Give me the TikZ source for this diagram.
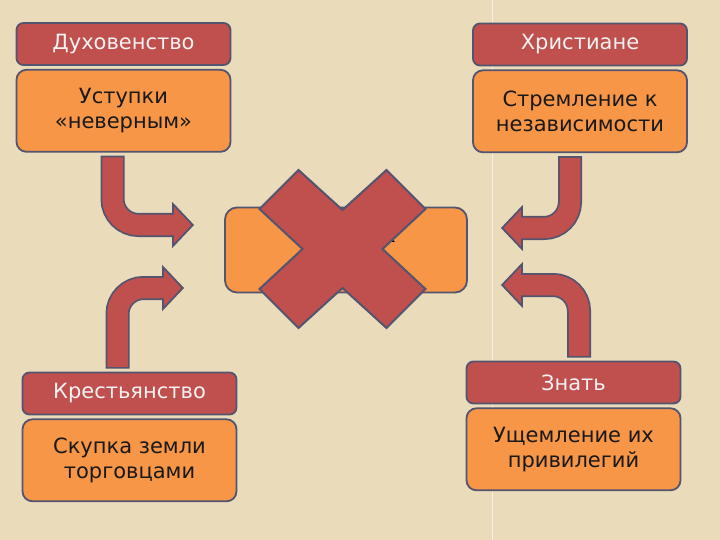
\documentclass[tikz,border=0pt]{standalone}
\usepackage{fontspec}
\setmainfont{DejaVu Sans}
\newfontfamily\midfont{Liberation Serif}
\usepackage{tikz}
\usetikzlibrary{positioning,arrows.meta,calc}
\definecolor{bgc}{RGB}{234,220,186}
\definecolor{redc}{RGB}{192,80,77}
\definecolor{orangec}{RGB}{247,150,70}
\definecolor{edgec}{RGB}{82,84,112}
\tikzset{
     bendout/.style={draw=edgec, line width=24pt, rounded corners=26pt,
                     -{Triangle[width=46pt,length=22pt,color=edgec,fill=redc,line width=1.8pt]}},
     bendin/.style={draw=redc, line width=20.5pt, rounded corners=26pt,
                    shorten <=1.8pt, shorten >=19pt},
     xmark/.style={draw=edgec, fill=redc, line width=2pt, line join=miter}
     }
\tikzstyle{head} = [rectangle, rounded corners=7pt, draw=edgec, line width=1.8pt, fill=redc, text=white!95!black, minimum width=214pt, minimum height=42pt, font=\fontsize{21}{25}\selectfont]
\tikzstyle{body} = [rectangle, rounded corners=10pt, draw=edgec, line width=1.8pt, fill=orangec, text=black!90, minimum width=214pt, minimum height=82pt, align=center, font=\fontsize{21}{25}\selectfont]
\tikzstyle{mid} = [rectangle, rounded corners=12pt, draw=edgec, line width=1.8pt, fill=orangec, minimum width=242pt, minimum height=85pt, align=center, font=\midfont\fontsize{24}{26}\selectfont]

\begin{document}
\begin{tikzpicture}[x=1pt,y=-1pt]
    \useasboundingbox (0,0) rectangle (720,540);
    \fill [bgc] (0,0) rectangle (720,540);
    \draw [white!55!bgc, line width=1pt] (492,0) -- (492,540);

    \node [head] (D) at (123.5,44) {Духовенство};
    \node [body, below=3pt of D] (Dt) {Уступки\\«неверным»};
    \node [head] (H) at (580,44.5) {Христиане};
    \node [body, below=3pt of H] (Ht) {Стремление к\\независимости};
    \node [head] (K) at (129.5,393.5) {Крестьянство};
    \node [body, below=3pt of K] (Kt) {Скупка земли\\торговцами};
    \node [head] (Z) at (573.5,382.5) {Знать};
    \node [body, below=3pt of Z] (Zt) {Ущемление их\\привилегий};
    \node [mid] (C) at (346,250) {Политика\\султана};

    \draw [bendout] ([xshift=-11pt,yshift=-3pt]Dt.south) |- ([xshift=-30pt,yshift=25pt]C.west);
    \draw [bendin]  ([xshift=-11pt,yshift=-3pt]Dt.south) |- ([xshift=-30pt,yshift=25pt]C.west);
    \draw [bendout] ([xshift=-10pt,yshift=-3pt]Ht.south) |- ([xshift=33pt,yshift=22pt]C.east);
    \draw [bendin]  ([xshift=-10pt,yshift=-3pt]Ht.south) |- ([xshift=33pt,yshift=22pt]C.east);
    \draw [bendout] ([xshift=-12pt,yshift=3pt]K.north) |- ([xshift=-40pt,yshift=-38pt]C.west);
    \draw [bendin]  ([xshift=-12pt,yshift=3pt]K.north) |- ([xshift=-40pt,yshift=-38pt]C.west);
    \draw [bendout] ([xshift=5.5pt,yshift=3pt]Z.north) |- ([xshift=33pt,yshift=-35pt]C.east);
    \draw [bendin]  ([xshift=5.5pt,yshift=3pt]Z.north) |- ([xshift=33pt,yshift=-35pt]C.east);

    % cross over the centre block
    \coordinate (X) at ([xshift=-3.5pt,yshift=1pt]C.center);
    \draw [xmark, shift={(X)}] (-44,-79) -- (0,-39) -- (44,-79) -- (83,-40) -- (40,0) -- (83,40)
        -- (44,79) -- (0,39) -- (-44,79) -- (-83,40) -- (-40,0) -- (-83,-40) -- cycle;
\end{tikzpicture}
\end{document}
